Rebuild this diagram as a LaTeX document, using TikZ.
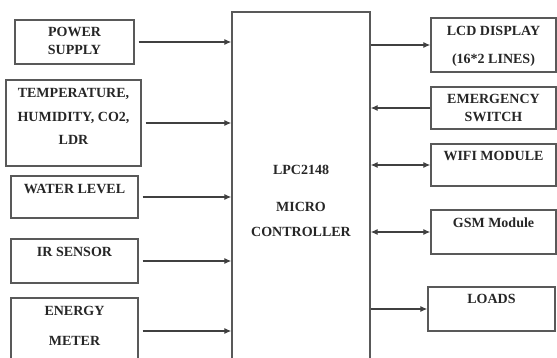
\documentclass[tikz,border=0pt]{standalone}
\usepackage{fontspec}
\setmainfont{Liberation Serif}
\usetikzlibrary{arrows.meta,positioning}

\begin{document}
\begin{tikzpicture}[x=1pt,y=-1pt,
   every node/.style={font=\bfseries\fontsize{14}{18}\selectfont},
   blk/.style={draw=black!65,line width=1.3pt,inner sep=0pt},
   txt/.style={align=center,inner sep=0pt,text=black!85},
   sig/.style={line width=1.2pt,draw=black!75,-{Latex[length=7pt,width=6pt]}},
   bsig/.style={sig,{Latex[length=7pt,width=6pt]}-{Latex[length=7pt,width=6pt]}}
]
\clip (0,0) rectangle (557,358);

% controller in the middle
\node[blk,minimum width=138pt,minimum height=370pt] (mcu) at (301,197) {};
\node[txt,anchor=north] (mcuT) at (301,165) {LPC2148\\[19pt]MICRO\\[7pt]CONTROLLER};

% inputs on the left
\node[blk,minimum width=119pt,minimum height=44pt] (pwr) at (74.5,42) {};
\node[blk,minimum width=135pt,minimum height=86pt] (sens) at (73.5,123) {};
\node[blk,minimum width=127pt,minimum height=42pt] (wtr) at (74.5,197) {};
\node[blk,minimum width=127pt,minimum height=44pt] (ir) at (74.5,261) {};
\node[blk,minimum width=127pt,minimum height=66pt] (enm) at (74.5,331) {};

\node[txt,below=8pt of pwr.north] (pwrT) {POWER\\SUPPLY};
\node[txt,below=9pt of sens.north] (sensT) {TEMPERATURE,\\[5.5pt]HUMIDITY, CO2,\\[5.5pt]LDR};
\node[txt,below=9pt of wtr.north] (wtrT) {WATER LEVEL};
\node[txt,below=9pt of ir.north] (irT) {IR SENSOR};
\node[txt,below=9pt of enm.north] (enmT) {ENERGY\\[12pt]METER};

% outputs and links on the right
\node[blk,minimum width=125pt,minimum height=54pt] (lcd) at (493.5,45) {};
\node[blk,minimum width=125pt,minimum height=42pt] (sw) at (493.5,108) {};
\node[blk,minimum width=125pt,minimum height=42pt] (wifi) at (493.5,165) {};
\node[blk,minimum width=125pt,minimum height=44pt] (gsm) at (493.5,232) {};
\node[blk,minimum width=127pt,minimum height=44pt] (lds) at (491.5,309) {};

\node[txt,below=9pt of lcd.north] (lcdT) {LCD DISPLAY\\[10pt](16*2 LINES)};
\node[txt,below=8pt of sw.north] (swT) {EMERGENCY\\SWITCH};
\node[txt,below=8pt of wifi.north] (wifiT) {WIFI MODULE};
\node[txt,below=8pt of gsm.north] (gsmT) {GSM Module};
\node[txt,below=8pt of lds.north] (ldsT) {LOADS};

% connections
\foreach \n in {pwr,sens,wtr,ir,enm}
  \draw[sig,shorten <=4pt] (\n.east) -- (\n.east -| mcu.west);
\draw[sig] (mcu.east |- lcd.west) -- (lcd.west);
\draw[sig] (sw.west) -- (sw.west -| mcu.east);
\draw[bsig] (mcu.east |- wifi.west) -- (wifi.west);
\draw[bsig] (mcu.east |- gsm.west) -- (gsm.west);
\draw[sig] (mcu.east |- lds.west) -- (lds.west);
\end{tikzpicture}
\end{document}
